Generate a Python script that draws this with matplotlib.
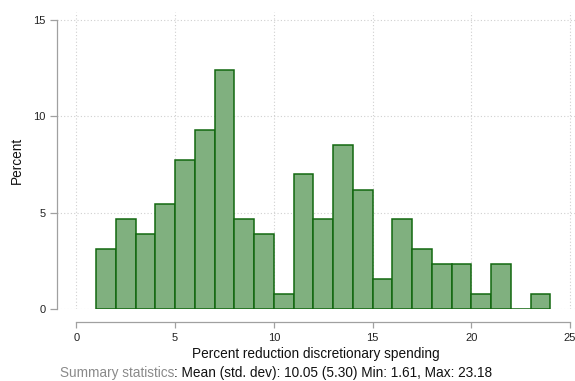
import numpy as np
import matplotlib
matplotlib.use('Agg')
import matplotlib.pyplot as plt

# bin edges (width 1) and percent per bin
bin_left = [1, 2, 3, 4, 5, 6, 7, 8, 9, 10, 11, 12, 13, 14, 15, 16, 17, 18, 19, 20, 21, 22, 23]
percent = [3.10, 4.65, 3.88, 5.43, 7.75, 9.30, 12.40, 4.65, 3.88, 0.78, 6.98, 4.65,
           8.53, 6.20, 1.55, 4.65, 3.10, 2.33, 2.33, 0.78, 2.33, 0.0, 0.78]
x_ticks = [0, 5, 10, 15, 20, 25]
y_ticks = [0, 5, 10, 15]

plt.rcParams['font.family'] = ['Liberation Sans', 'DejaVu Sans']

fig = plt.figure(figsize=(5.75, 3.81), dpi=100)
ax = fig.add_axes([57/575, (381-309)/381, 1 - 57/575, (309-12)/381])

ax.bar(bin_left, percent, width=1.0, align='edge', color='#80b07f',
       edgecolor='#12680f', linewidth=1.1, zorder=3)

ax.set_xlim(-0.98, 25.25)
ax.set_ylim(0, 15.41)
ax.set_xticks(x_ticks)
ax.set_yticks(y_ticks)

ax.grid(True, linestyle=(0, (1, 2)), color='#d0d0d0', linewidth=0.8, zorder=0)

for s in ['top', 'right']:
    ax.spines[s].set_visible(False)
ax.spines['left'].set_bounds(0, 15)
ax.spines['bottom'].set_bounds(0, 25)
ax.spines['bottom'].set_position(('outward', 9))
for s in ['left', 'bottom']:
    ax.spines[s].set_color('#a0a0a0')
    ax.spines[s].set_linewidth(0.9)

ax.tick_params(axis='both', colors='#a0a0a0', labelcolor='#222222',
               labelsize=8, width=0.9)
ax.tick_params(axis='y', length=5, pad=3)
ax.tick_params(axis='x', length=4, pad=4)

ax.set_ylabel('Percent', fontsize=9.8, color='#111111', labelpad=7)
ax.set_xlabel('Percent reduction discretionary spending', fontsize=9.8,
              color='#111111', labelpad=3)

y_sum = 1 - 377/381
t0 = fig.text(60/575, y_sum, 'Summary statistics', fontsize=9.8, color='#8a8a8a',
              ha='left', va='baseline')
# continuation of the summary line in black
fig.canvas.draw()
bb = t0.get_window_extent()
fig.text(bb.x1 / fig.bbox.width, y_sum,
         ': Mean (std. dev): 10.05 (5.30) Min: 1.61, Max: 23.18',
         fontsize=9.8, color='#111111', ha='left', va='baseline')

fig.savefig('out.png', dpi=100)
